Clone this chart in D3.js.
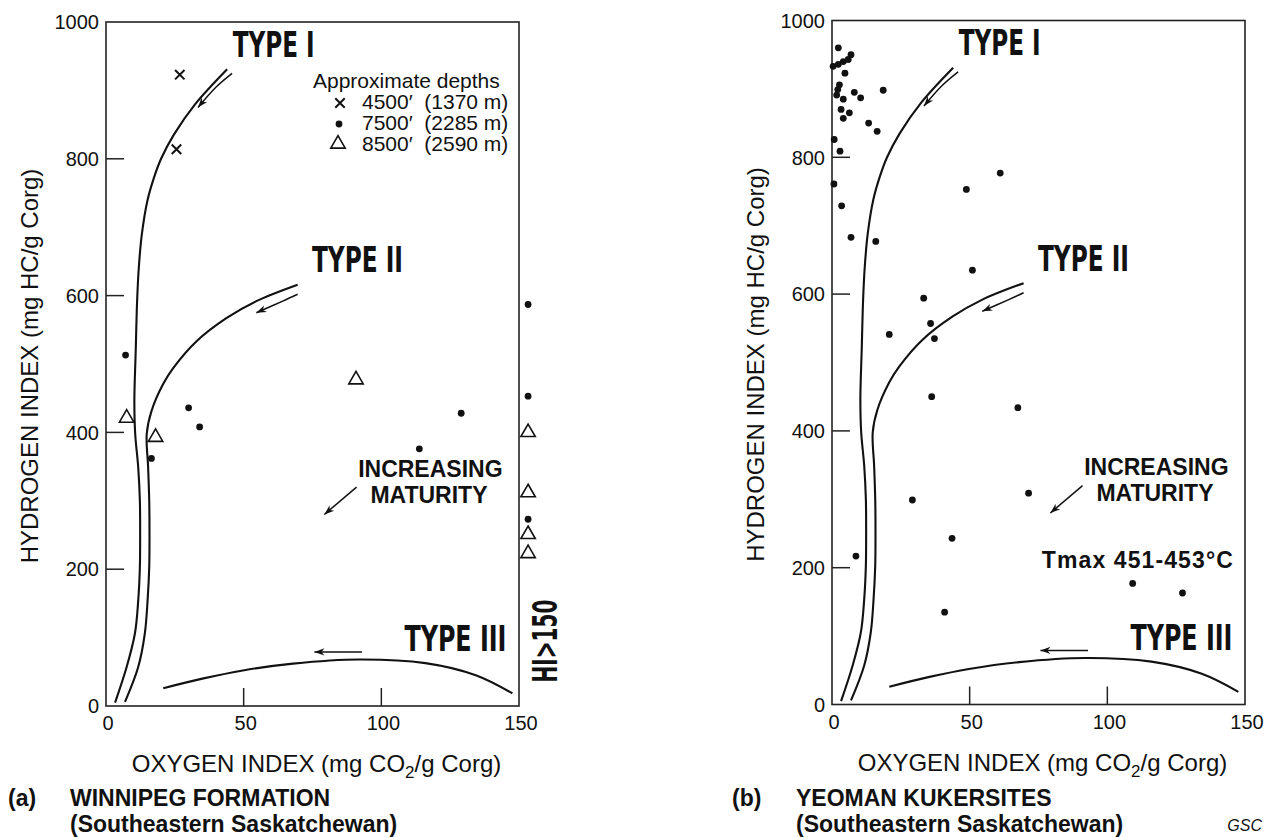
<!DOCTYPE html>
<html lang="en">
<head>
<meta charset="UTF-8">
<script src="https://d3js.org/d3.v7.min.js"></script>
<style>
  body { margin: 0; background: #fff; }
  text { font-family: "Liberation Sans", Arial, Helvetica, sans-serif; fill: #111; }
  .cond { font-family: "Liberation Sans Narrow", "DejaVu Sans Condensed", "Liberation Sans", sans-serif; font-weight: bold; }
</style>
</head>
<body>
<svg id="chart" width="1265" height="838"></svg>
<script>
const xTicks = [0, 50, 100, 150];
const yTicks = [0, 200, 400, 600, 800, 1000];

// kerogen evolution paths, [OI, HI]
const type1Curve = [[3.3,5],[7.5,57],[10.5,106],[11.7,154],[12.3,203],[12.4,250],[12.3,300],[11.7,349],[10.6,398],[10.3,446],[10.8,520],[11.3,592],[11.9,640],[13,689],[15,738],[17.4,772],[20,800],[24.6,835],[32.4,880],[44,931]];
const type2Curve = [[6.9,6],[11.7,57],[14.1,106],[15.1,154],[15.7,203],[15.8,250],[15.7,300],[15.3,349],[14.8,398],[16.5,431],[20.8,471],[24.4,494],[32.8,533],[43.7,567],[54.6,592],[69.6,616]];
const type3Curve = [[20.8,26],[35,40],[49.7,52],[67.9,62],[92,68],[116,62.7],[134.3,45],[147.6,18.5]];
const type1Arrow = [[45.8,925],[40,905],[33.4,875]];
const type2Arrow = [[69.6,602],[64.2,592],[54.6,575]];
const type3Arrow = [[93,79],[75.7,79]];
const maturityArrow = [[91,320],[79.3,280]];

// (a) Winnipeg Formation
const winnipegShallow = [[26.8,923],[25.6,814]];                                   // 4500'
const winnipegMid = [[7.1,513],[16.5,362],[30,436],[34,408],[113.8,376],[129,428]];  // 7500'
const winnipegDeep = [[7.5,421],[18,393],[90.8,477]];                               // 8500'
// samples with OI > 150, stacked beside the right axis (HI only)
const offScaleOI = 153.3;
const offScaleMid = [587, 453, 273];
const offScaleDeep = [400, 312, 251, 223];
const legendLabels = ["4500\u2032  (1370 m)", "7500\u2032  (2285 m)", "8500\u2032  (2590 m)"];

// (b) Yeoman kukersites
const yeomanPoints = [[2.3,960],[6.9,950],[0.4,933],[2.3,936],[4.1,940],[5.9,943],[4.7,923],[2.7,906],[2.1,899],[8.1,895],[18.6,898],[1.7,891],[4.1,885],[10.4,887],[3.3,870],[6.3,865],[4.1,857],[13.3,850],[16.4,838],[0.8,826],[2.9,809],[0.7,761],[3.5,729],[48.8,753],[61.1,777],[6.9,683],[15.9,677],[51,635],[33.3,594],[35.8,557],[20.8,541],[37.2,535],[36.2,450],[67.5,434],[29.2,299],[71.4,309],[43.6,243],[8.7,217],[109.2,177],[127.3,163],[40.9,135]];

const W = 413, H = 684;
const svg = d3.select("#chart");

svg.append("defs").append("marker")
    .attr("id", "head")
    .attr("markerUnits", "userSpaceOnUse")
    .attr("markerWidth", 14).attr("markerHeight", 10)
    .attr("viewBox", "-12 -5 14 10")
    .attr("refX", 0).attr("refY", 0)
    .attr("orient", "auto")
  .append("path")
    .attr("d", "M0,0 L-10,-3.6 L-7,0 L-10,3.6 Z")
    .attr("fill", "#111");

const triangle = d3.symbol().type(d3.symbolTriangle).size(90);
const cross = d3.symbol().type(d3.symbolTimes).size(60);

// condensed heading squeezed to a given width
function condText(g, txt, px, py, width, size, rotate) {
    const t = g.append("text").attr("class", "cond").style("font-size", size + "px").text(txt);
    const sx = width / t.node().getComputedTextLength();
    if (rotate) {
        t.attr("text-anchor", "middle")
         .attr("transform", `translate(${px},${py}) rotate(-90) scale(${sx},1)`);
    } else {
        t.attr("transform", `translate(${px},${py}) scale(${sx},1)`);
    }
    return t;
}

function drawPanel(ox, oy) {
    const g = svg.append("g").attr("transform", `translate(${ox},${oy})`);
    const x = d3.scaleLinear().domain([0, 150]).range([0, W]);
    const y = d3.scaleLinear().domain([0, 1000]).range([H, 0]);

    g.append("rect").attr("width", W).attr("height", H)
        .attr("fill", "none").attr("stroke", "#222").attr("stroke-width", 1.6);

    // inward ticks
    g.selectAll(".yt").data(yTicks.slice(1, -1)).enter().append("line")
        .attr("x1", 0).attr("x2", 18).attr("y1", d => y(d)).attr("y2", d => y(d))
        .attr("stroke", "#222").attr("stroke-width", 1.5);
    g.selectAll(".xt").data(xTicks.slice(1, -1)).enter().append("line")
        .attr("x1", d => x(d)).attr("x2", d => x(d)).attr("y1", H).attr("y2", H - 18)
        .attr("stroke", "#222").attr("stroke-width", 1.5);

    g.selectAll(".yl").data(yTicks).enter().append("text")
        .attr("x", -7).attr("y", d => y(d)).attr("dy", "0.36em")
        .attr("text-anchor", "end").style("font-size", "20px").text(d => d);
    g.selectAll(".xl").data(xTicks).enter().append("text")
        .attr("x", d => x(d) + 2).attr("y", H + 24)
        .attr("text-anchor", "middle").style("font-size", "20px").text(d => d);

    g.append("text").attr("transform", `translate(-68,${H / 2 + 2}) rotate(-90)`)
        .attr("text-anchor", "middle").style("font-size", "24px")
        .text("HYDROGEN INDEX (mg HC/g Corg)");
    const xl = g.append("text").attr("x", W / 2 + 4).attr("y", H + 66)
        .attr("text-anchor", "middle").style("font-size", "24px");
    xl.append("tspan").text("OXYGEN INDEX (mg CO");
    xl.append("tspan").attr("dy", 6).style("font-size", "17px").text("2");
    xl.append("tspan").attr("dy", -6).text("/g Corg)");

    const line = d3.line().x(d => x(d[0])).y(d => y(d[1])).curve(d3.curveCatmullRom.alpha(0.5));
    [type1Curve, type2Curve, type3Curve].forEach(c => {
        g.append("path").attr("d", line(c)).attr("fill", "none")
            .attr("stroke", "#111").attr("stroke-width", 2.1);
    });
    [type1Arrow, type2Arrow, type3Arrow, maturityArrow].forEach(c => {
        g.append("path").attr("d", line(c)).attr("fill", "none")
            .attr("stroke", "#111").attr("stroke-width", 1.5)
            .attr("marker-end", "url(#head)");
    });

    condText(g, "TYPE I", x(46), y(949), 82, 36);
    condText(g, "TYPE II", x(74.8), y(634), 91, 36);
    condText(g, "TYPE III", x(108.4), y(80), 102, 36);

    g.append("text").attr("x", x(117.8)).attr("y", y(335)).attr("text-anchor", "middle")
        .style("font-size", "23px").style("font-weight", "bold").text("INCREASING");
    g.append("text").attr("x", x(117.3)).attr("y", y(297)).attr("text-anchor", "middle")
        .style("font-size", "23px").style("font-weight", "bold").text("MATURITY");

    return {g, x, y};
}

function dots(g, data, x, y) {
    g.selectAll(null).data(data).enter().append("circle")
        .attr("cx", d => x(d[0])).attr("cy", d => y(d[1])).attr("r", 3.4).attr("fill", "#111");
}
function triangles(g, data, x, y) {
    g.selectAll(null).data(data).enter().append("path")
        .attr("d", triangle).attr("transform", d => `translate(${x(d[0])},${y(d[1])})`)
        .attr("fill", "none").attr("stroke", "#111").attr("stroke-width", 1.6);
}
function crosses(g, data, x, y) {
    g.selectAll(null).data(data).enter().append("path")
        .attr("d", cross).attr("transform", d => `translate(${x(d[0])},${y(d[1])})`)
        .attr("fill", "none").attr("stroke", "#111").attr("stroke-width", 2);
}

// panel (a)
const a = drawPanel(106, 22);
crosses(a.g, winnipegShallow, a.x, a.y);
dots(a.g, winnipegMid.concat(offScaleMid.map(h => [offScaleOI, h])), a.x, a.y);
triangles(a.g, winnipegDeep.concat(offScaleDeep.map(h => [offScaleOI, h])), a.x, a.y);
condText(a.g, "HI>150", 451, 619, 83, 34, true);

// legend
const leg = a.g.append("g").attr("transform", "translate(207,66)");
leg.append("text").style("font-size", "21px").text("Approximate depths");
legendLabels.forEach((lab, i) => {
    leg.append("text").attr("x", 49).attr("y", 21 * (i + 1)).style("font-size", "21px")
        .style("white-space", "pre").text(lab);
});
const legY = i => 66 + 21 * (i + 1) - 6;
crosses(a.g, [[0, 0]], () => 234, () => legY(0));
dots(a.g, [[0, 0]], () => 233, () => legY(1));
triangles(a.g, [[0, 0]], () => 232, () => legY(2) - 1);

// panel (b)
const b = drawPanel(832, 20.5);
dots(b.g, yeomanPoints, b.x, b.y);
b.g.append("text").attr("x", b.x(76.2)).attr("y", b.y(199))
    .style("font-size", "23px").style("font-weight", "bold")
    .attr("textLength", 191).text("Tmax 451-453\u00B0C");

// captions
const cap = (txt, px, py) => svg.append("text").attr("x", px).attr("y", py)
    .style("font-size", "23px").style("font-weight", "bold").text(txt);
cap("(a)", 8, 806);
cap("WINNIPEG FORMATION", 70, 806);
cap("(Southeastern Saskatchewan)", 70, 832);
cap("(b)", 732, 806);
cap("YEOMAN KUKERSITES", 796, 806);
cap("(Southeastern Saskatchewan)", 796, 832);
svg.append("text").attr("x", 1262).attr("y", 831).attr("text-anchor", "end")
    .style("font-size", "16px").style("font-style", "italic").text("GSC");
</script>
</body>
</html>
